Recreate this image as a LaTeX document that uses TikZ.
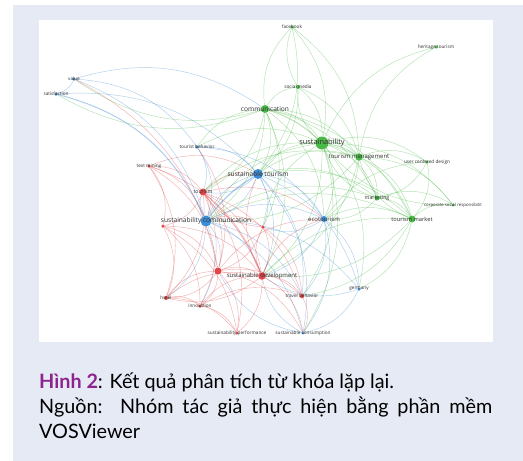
\documentclass[tikz,border=0pt]{standalone}
\usepackage{fontspec}
\setmainfont{Lato}
\newfontfamily\vosfont{Open Sans}
\usetikzlibrary{backgrounds}
\definecolor{capbg}{RGB}{230,234,245}
\definecolor{vosblue}{RGB}{62,140,212}
\definecolor{vosgreen}{RGB}{74,186,70}
\definecolor{vosred}{RGB}{226,70,72}
\definecolor{hinhpurple}{RGB}{140,36,140}
\definecolor{lblgray}{RGB}{48,48,48}

\begin{document}
\begin{tikzpicture}[x=1pt, y=-1pt,
  kw/.style={circle, inner sep=0pt, minimum size=#1},
  lbl/.style={inner sep=0pt, text=lblgray, font=\vosfont\fontsize{4.7}{5}\selectfont},
  lblmid/.style={lbl, font=\vosfont\fontsize{6}{6.5}\selectfont},
  lblbig/.style={lbl, font=\vosfont\fontsize{6.6}{7}\selectfont},
  link/.style={draw=#1, opacity=0.42, line width=0.45pt}]
\useasboundingbox (0,0) rectangle (523,461);
\begin{scope}[on background layer]
\fill[capbg] (13,5) rectangle (523,461);
\fill[white] (39,20) rectangle (493,342);
\end{scope}
% keyword nodes
\node[kw=3.5pt, fill=vosgreen] (fb) at (292,27) {};
\node[kw=3.5pt, fill=vosgreen] (her) at (436,47) {};
\node[kw=3.5pt, fill=vosblue] (val) at (74,79) {};
\node[kw=3.5pt, fill=vosblue] (sat) at (56,94) {};
\node[kw=4pt, fill=vosgreen] (soc) at (298,87) {};
\node[kw=8pt, fill=vosgreen] (com) at (265,109) {};
\node[kw=13pt, fill=vosgreen] (sus) at (322,143) {};
\node[kw=7.5pt, fill=vosgreen] (tm) at (359,157) {};
\node[kw=3.5pt, fill=vosgreen] (ucd) at (427,162) {};
\node[kw=3.5pt, fill=vosblue] (tb) at (197,147) {};
\node[kw=3.5pt, fill=vosred] (txt) at (149,166) {};
\node[kw=10pt, fill=vosblue] (st) at (258,174) {};
\node[kw=7pt, fill=vosred] (tou) at (203,192) {};
\node[kw=5pt, fill=vosgreen] (mkt) at (377,198) {};
\node[kw=3pt, fill=vosgreen] (csr) at (453,205) {};
\node[kw=11pt, fill=vosblue] (sc) at (206,221) {};
\node[kw=6pt, fill=vosblue] (eco) at (324,219) {};
\node[kw=7pt, fill=vosgreen] (tmk) at (412,219) {};
\node[kw=3.5pt, fill=vosred] (ra) at (163,226) {};
\node[kw=3.5pt, fill=vosred] (rb) at (263,227) {};
\node[kw=7pt, fill=vosred] (rc) at (218,271) {};
\node[kw=7.5pt, fill=vosred] (sd) at (262,276) {};
\node[kw=4.5pt, fill=vosred] (trb) at (302,296) {};
\node[kw=3.5pt, fill=vosblue] (ger) at (359,289) {};
\node[kw=4pt, fill=vosred] (hot) at (166,298) {};
\node[kw=3.5pt, fill=vosred] (inn) at (200,306) {};
\node[kw=3pt, fill=vosred] (sp) at (237,333) {};
\node[kw=3pt, fill=vosblue] (scon) at (303,333) {};
% labels
\node[lbl] (fb-l) at (fb) {facebook};
\node[lbl] (her-l) at (her) {heritage tourism};
\node[lbl] (val-l) at (val) {value};
\node[lbl] (sat-l) at (sat) {satisfaction};
\node[lbl] (soc-l) at (soc) {social media};
\node[lblbig] (com-l) at (com) {communication};
\node[lblbig, font=\vosfont\fontsize{7.4}{8}\selectfont] (sus-l) at (sus) {sustainability};
\node[lblmid] (tm-l) at (tm) {tourism management};
\node[lbl] (ucd-l) at (ucd) {user centered design};
\node[lbl] (tb-l) at (tb) {tourist behavior};
\node[lbl] (txt-l) at (txt) {text mining};
\node[lblbig] (st-l) at (st) {sustainable tourism};
\node[lbl, font=\vosfont\fontsize{5.2}{6}\selectfont] (tou-l) at (tou) {tourism};
\node[lbl, font=\vosfont\fontsize{5.2}{6}\selectfont] (mkt-l) at (mkt) {marketing};
\node[lbl, font=\vosfont\fontsize{4.3}{5}\selectfont] (csr-l) at (csr) {corporate social responsibilit};
\node[lblbig] (sc-l) at (sc) {sustainability communication};
\node[lblmid] (eco-l) at (eco) {ecotourism};
\node[lblmid, font=\vosfont\fontsize{5.7}{6}\selectfont] (tmk-l) at (tmk) {tourism market};
\node[lblmid] (sd-l) at (sd) {sustainable development};
\node[lbl] (trb-l) at (trb) {travel behavior};
\node[lbl] (ger-l) at (ger) {germany};
\node[lbl] (hot-l) at (hot) {hotel};
\node[lbl] (inn-l) at (inn) {innovation};
\node[lbl] (sp-l) at (sp) {sustainability performance};
\node[lbl] (scon-l) at (scon) {sustainable consumption};
% links
\begin{scope}[on background layer]
\foreach \a/\b/\c in {fb/sus/vosgreen, sus/her/vosgreen, tm/her/vosgreen, soc/sus/vosgreen,
  com/sus/vosgreen, sus/tm/vosgreen, sus/ucd/vosgreen, sus/mkt/vosgreen, sus/tmk/vosgreen,
  sus/csr/vosgreen, st/sus/vosgreen, sus/eco/vosgreen, sc/sus/vosgreen, tou/sus/vosgreen,
  sus/sd/vosgreen, com/fb/vosgreen, fb/tm/vosgreen, com/soc/vosgreen, com/val/vosgreen,
  com/sat/vosgreen, com/tm/vosgreen, com/mkt/vosgreen, com/tmk/vosgreen, com/st/vosgreen,
  com/sc/vosgreen, com/tou/vosgreen, tm/mkt/vosgreen, tm/tmk/vosgreen, tm/ucd/vosgreen,
  tm/csr/vosgreen, st/tm/vosgreen, tm/eco/vosgreen, ucd/tmk/vosgreen, mkt/tmk/vosgreen,
  mkt/csr/vosgreen, tmk/csr/vosgreen, soc/tm/vosgreen, eco/tmk/vosgreen, tmk/ger/vosgreen,
  sc/tmk/vosgreen, sd/tmk/vosgreen, soc/fb/vosgreen, tmk/sd/vosgreen,
  sus/trb/vosgreen, sus/scon/vosgreen, sus/ger/vosgreen, rb/sus/vosgreen, tb/sus/vosgreen,
  com/eco/vosgreen, com/sd/vosgreen, com/rb/vosgreen, tb/com/vosgreen, tm/sc/vosgreen,
  tm/sd/vosgreen, tou/tm/vosgreen, mkt/eco/vosgreen, st/mkt/vosgreen, sc/mkt/vosgreen,
  st/tmk/vosgreen, tmk/trb/vosgreen, ucd/mkt/vosgreen, fb/st/vosgreen, soc/st/vosgreen,
  eco/ucd/vosgreen, sus/soc/vosgreen, csr/sus/vosgreen, tmk/tm/vosgreen, mkt/sus/vosgreen,
  val/sat/vosblue, val/com/vosblue, val/sc/vosblue, val/tb/vosblue, tb/st/vosblue, tb/sc/vosblue,
  sc/st/vosblue, st/eco/vosblue, st/ger/vosblue, st/scon/vosblue, sc/eco/vosblue,
  sc/ger/vosblue, sc/scon/vosblue, eco/ger/vosblue, eco/scon/vosblue, ger/scon/vosblue,
  tb/tou/vosblue, st/tou/vosblue, eco/trb/vosblue, sc/sd/vosblue,
  st/sd/vosblue, st/rb/vosblue, st/trb/vosblue, sc/trb/vosblue, sc/hot/vosblue, sc/inn/vosblue,
  sc/rc/vosblue, eco/sd/vosblue, eco/rb/vosblue, tb/eco/vosblue, ger/sd/vosblue, scon/sd/vosblue,
  scon/rc/vosblue, sat/st/vosblue, sc/tou/vosblue, st/sc/vosblue,
  val/rc/vosred, txt/tou/vosred, txt/sc/vosred, txt/ra/vosred, txt/sd/vosred, tou/sc/vosred,
  tou/ra/vosred, tou/sd/vosred, tou/rc/vosred, tou/hot/vosred, tou/inn/vosred, tou/trb/vosred,
  ra/hot/vosred, ra/rc/vosred, ra/sd/vosred, rb/sd/vosred, rb/rc/vosred, sc/rb/vosred,
  rc/sd/vosred, rc/hot/vosred, rc/inn/vosred, rc/sp/vosred, sd/trb/vosred, sd/sp/vosred,
  hot/sd/vosred, inn/sd/vosred, hot/inn/vosred, hot/sp/vosred, inn/sp/vosred, trb/scon/vosred,
  sd/eco/vosred, tou/st/vosred, ra/sp/vosred, sd/rb/vosred,
  txt/rc/vosred, txt/hot/vosred, ra/inn/vosred, rb/trb/vosred, rc/trb/vosred, rc/scon/vosred,
  sd/scon/vosred, tou/sp/vosred, inn/trb/vosred, rb/tou/vosred, txt/st/vosred, tou/eco/vosred,
  rc/eco/vosred, tb/rc/vosred, sd/st/vosred, hot/rc/vosred, sd/hot/vosred}
  \draw[link=\c] (\a) to[bend left=25] (\b);
\draw[link=vosblue, line width=1pt] (sat) to[bend left=25] (sc);
\draw[link=vosblue, line width=1.3pt] (sc) to[bend left=10] (st);
\draw[link=vosred, line width=0.9pt] (tou) to[bend left=12] (sd);
\draw[link=vosgreen, line width=0.9pt] (com) to[bend left=12] (sus);
\draw[link=vosgreen, line width=0.8pt] (sus) to[bend left=12] (tm);
\end{scope}
% caption
\node[anchor=base west, inner sep=0pt, text width=453pt, align=justify,
  font=\fontsize{19.8}{25}\selectfont] (cap) at (39,388)
  {\textcolor{hinhpurple}{\textbf{Hình 2}}: Kết quả phân tích từ khóa lặp lại.\\
   Nguồn:\ \ Nhóm tác giả thực hiện bằng phần mềm\linebreak VOSViewer};
\end{tikzpicture}
\end{document}
